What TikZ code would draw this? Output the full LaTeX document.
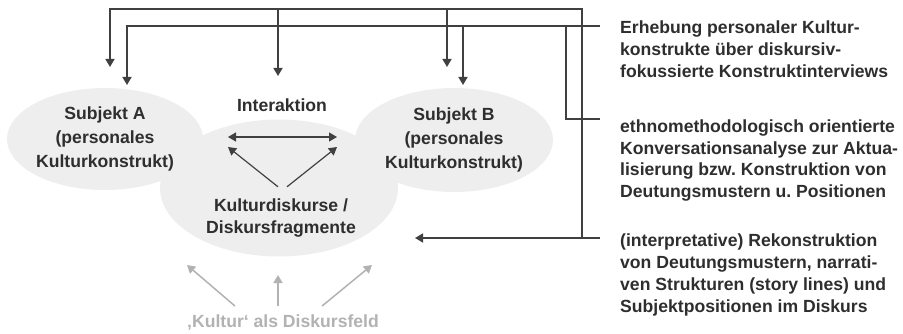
\documentclass[tikz,border=0pt]{standalone}
\usepackage{fontspec}
\setmainfont{Liberation Sans}
\usepackage{pgf,tikz}
\usetikzlibrary{shapes.geometric,arrows.meta}
\frenchspacing
\definecolor{linienfarbe}{gray}{0.25}
\definecolor{wolkenfarbe}{gray}{0.935}
\definecolor{feldfarbe}{gray}{0.70}
\definecolor{schrift}{gray}{0.18}
\tikzstyle{wolke} = [ellipse, fill=wolkenfarbe, inner sep=0pt, align=center, text=schrift, font=\bfseries\fontsize{17.6}{24}\selectfont]
\tikzstyle{beschriftung} = [align=center, inner sep=0pt, text=schrift, font=\bfseries\fontsize{17.6}{21.5}\selectfont]
\tikzstyle{methode} = [align=left, anchor=north west, inner sep=0pt, text=schrift, font=\bfseries\fontsize{17.6}{21.7}\selectfont]
\tikzstyle{verbinder} = [draw=linienfarbe, line width=1.6pt]
\tikzstyle{pfeil} = [verbinder, -{Triangle[length=8pt,width=9pt]}]
\tikzstyle{feldpfeil} = [draw=feldfarbe, line width=1.5pt, -{Triangle[length=8pt,width=9pt]}]

\begin{document}
\begin{tikzpicture}[x=1pt,y=-1pt]
	\useasboundingbox (0,0) rectangle (903,334);
	\node[wolke, minimum width=238pt, minimum height=137pt](diskurs) at (279,188) {};
	\node[wolke, minimum width=196pt, minimum height=102pt](subA) at (105,139) {Subjekt A\\(personales\\Kulturkonstrukt)};
	\node[wolke, minimum width=198pt, minimum height=104pt](subB) at (454,140) {Subjekt B\\(personales\\Kulturkonstrukt)};
	\node[beschriftung](kdisk) at (281,218) {Kulturdiskurse /\\Diskursfragmente};
	\node[beschriftung](interaktion) at (282,105) {Interaktion};
	\node[beschriftung, text=feldfarbe](feld) at (283,322) {‚Kultur‘ als Diskursfeld};

	\node[methode](erhebung) at (620,21) {Erhebung personaler Kultur-\\konstrukte über diskursiv-\\fokussierte Konstruktinterviews};
	\node[methode](konversation) at (620,119.5) {ethnomethodologisch orientierte\\Konversationsanalyse zur Aktua-\\lisierung bzw. Konstruktion von\\Deutungsmustern u. Positionen};
	\node[methode](rekonstruktion) at (620,234) {(interpretative) Rekonstruktion\\von Deutungsmustern, narrati-\\ven Strukturen (story lines) und\\Subjektpositionen im Diskurs};

	\coordinate (e0) at (600,26);
	\coordinate (k0) at (600,119);
	\coordinate (r0) at (600,238);
	\coordinate (eckeR) at (582,9);
	\coordinate (eckeE) at (566,26);
	\coordinate (spitzeA1) at (110,67);
	\coordinate (spitzeA2) at (127,85);
	\coordinate (spitzeI) at (278,76);
	\coordinate (spitzeB1) at (447,67);
	\coordinate (spitzeB2) at (463,85);
	\coordinate (spitzeK) at (415,238);

	\draw[pfeil] (r0) -| (eckeR) -| (spitzeA1);
	\draw[pfeil] (spitzeI |- eckeR) -- (spitzeI);
	\draw[pfeil] (spitzeB1 |- eckeR) -- (spitzeB1);
	\draw[pfeil] (r0) -- (spitzeK);
	\draw[pfeil] (e0) -| (spitzeA2);
	\draw[pfeil] (spitzeB2 |- e0) -- (spitzeB2);
	\draw[verbinder] (k0) -| (eckeE);

	\coordinate (iL) at (228,137);
	\coordinate (iR) at (337,137);
	\coordinate (dL) at (228,147);
	\coordinate (dR) at (337,147);
	\draw[pfeil, {Triangle[length=8pt,width=9pt]}-{Triangle[length=8pt,width=9pt]}, line width=1.2pt] (iL) -- (iR);
	\draw[pfeil, line width=1.2pt] ([xshift=-3pt,yshift=12pt]kdisk.north) -- (dL);
	\draw[pfeil, line width=1.2pt] ([xshift=6pt,yshift=12pt]kdisk.north) -- (dR);

	\coordinate (fL) at (187,265);
	\coordinate (fM) at (278,275);
	\coordinate (fR) at (372,265);
	\draw[feldpfeil] ([xshift=-48pt,yshift=8pt]feld.north) -- (fL);
	\draw[feldpfeil] ([xshift=-5pt,yshift=8pt]feld.north) -- (fM);
	\draw[feldpfeil] ([xshift=39pt,yshift=8pt]feld.north) -- (fR);
\end{tikzpicture}
\end{document}
